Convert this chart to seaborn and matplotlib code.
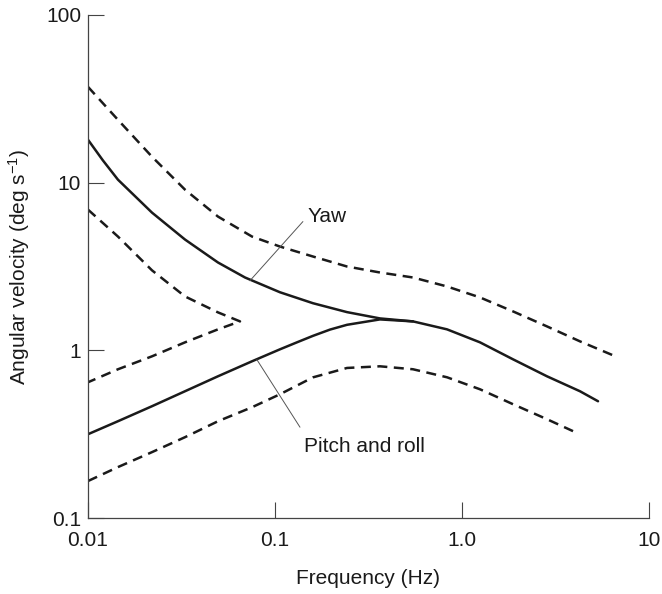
import matplotlib
matplotlib.use("Agg")
import matplotlib.pyplot as plt
import seaborn as sns
import pandas as pd

# Yaw, nominal (solid)
yaw_freq = [0.01, 0.012, 0.01446, 0.02199, 0.03302, 0.04956, 0.06913, 0.1063, 0.1596,
            0.2427, 0.3642, 0.547, 0.8315, 1.248, 1.874, 2.848, 4.276, 5.338]
yaw_vel = [18.03, 13.6, 10.42, 6.628, 4.579, 3.341, 2.719, 2.22, 1.91,
           1.69, 1.550, 1.488, 1.334, 1.116, 0.884, 0.700, 0.570, 0.497]

# Pitch and roll, nominal (solid), runs into the yaw curve near 0.4 Hz
pitch_freq = [0.01, 0.01446, 0.02199, 0.03302, 0.04956, 0.07534, 0.1063, 0.131,
              0.1596, 0.197, 0.2427, 0.3642, 0.547]
pitch_vel = [0.316, 0.3777, 0.4642, 0.5702, 0.7003, 0.8602, 1.014, 1.116,
             1.22, 1.33, 1.42, 1.529, 1.488]

# Upper bound (dashed)
upper_freq = [0.01, 0.01446, 0.02199, 0.03302, 0.04956, 0.07534, 0.1063, 0.1596,
              0.2427, 0.3642, 0.547, 0.8315, 1.248, 1.874, 2.848, 4.276, 6.421]
upper_vel = [37.28, 23.71, 14.28, 9.085, 6.277, 4.771, 4.159, 3.627,
             3.162, 2.912, 2.719, 2.404, 2.068, 1.707, 1.389, 1.131, 0.934]

# Inner bound between yaw and pitch/roll (dashed, closes in a point)
inner_freq = [0.01, 0.01446, 0.02199, 0.03302, 0.04956, 0.065,
              0.04956, 0.03302, 0.02199, 0.01446, 0.01]
inner_vel = [6.906, 4.771, 3.0, 2.096, 1.684, 1.488,
             1.334, 1.116, 0.921, 0.771, 0.645]

# Lower bound (dashed)
lower_freq = [0.01, 0.01446, 0.02199, 0.03302, 0.04956, 0.07534, 0.1063, 0.1596,
              0.2427, 0.3642, 0.547, 0.8315, 1.248, 1.874, 2.848, 3.924]
lower_vel = [0.1661, 0.2012, 0.2471, 0.3034, 0.3777, 0.4577, 0.547, 0.69,
             0.785, 0.8031, 0.7711, 0.6907, 0.5858, 0.4771, 0.3883, 0.3296]

x_ticks = [0.01, 0.1, 1.0, 10]
x_tick_labels = ["0.01", "0.1", "1.0", "10"]
y_ticks = [0.1, 1, 10, 100]
y_tick_labels = ["0.1", "1", "10", "100"]

sns.set_theme(style="ticks")
plt.rcParams["font.family"] = ["Liberation Sans", "DejaVu Sans"]
plt.rcParams["mathtext.fontset"] = "custom"
plt.rcParams["mathtext.rm"] = "Liberation Sans"
plt.rcParams["mathtext.it"] = "Liberation Sans:italic"

fig = plt.figure(figsize=(6.62, 5.94), dpi=100)
ax = fig.add_axes([88 / 662, 1 - 518 / 594, (649 - 88) / 662, (518 - 15) / 594])

ink = "#1a1a1a"
lw = 1.8
dash = (4, 2.6)  # in units of line width

def curve(freq, vel, dashed):
    df = pd.DataFrame({"freq": freq, "vel": vel})
    sns.lineplot(data=df, x="freq", y="vel", ax=ax, sort=False, estimator=None,
                 color=ink, linewidth=lw)
    line = ax.lines[-1]
    if dashed:
        line.set_dashes(dash)
    line.set_solid_joinstyle("round")
    line.set_dash_joinstyle("round")
    line.set_dash_capstyle("butt")

curve(upper_freq, upper_vel, True)
curve(inner_freq, inner_vel, True)
curve(lower_freq, lower_vel, True)
curve(yaw_freq, yaw_vel, False)
curve(pitch_freq, pitch_vel, False)

ax.set_xscale("log")
ax.set_yscale("log")
ax.set_xlim(0.01, 10)
ax.set_ylim(0.1, 100)
ax.set_xticks(x_ticks)
ax.set_xticklabels(x_tick_labels)
ax.set_yticks(y_ticks)
ax.set_yticklabels(y_tick_labels)
ax.minorticks_off()

spine_c = "#444444"
for side in ("top", "right"):
    ax.spines[side].set_visible(False)
for side in ("left", "bottom"):
    ax.spines[side].set_color(spine_c)
    ax.spines[side].set_linewidth(0.9)
ax.tick_params(axis="both", which="major", direction="in", length=11.5, width=0.8,
               color=spine_c, labelsize=15, labelcolor=ink)
ax.tick_params(axis="x", pad=9)
ax.tick_params(axis="y", pad=5)

ax.set_xlabel("Frequency (Hz)", fontsize=15, color=ink, labelpad=14)
ax.set_ylabel(r"Angular velocity (deg s$\mathregular{^{-1}}$)", fontsize=15, color=ink, labelpad=10)

# Leader lines and their labels
ax.plot([0.0734, 0.141], [2.6, 5.86], color="#555555", linewidth=0.7)
ax.text(0.150, 5.86, "Yaw", fontsize=15, color=ink, ha="left", va="baseline")
ax.plot([0.080, 0.136], [0.88, 0.348], color="#555555", linewidth=0.7)
ax.text(0.143, 0.247, "Pitch and roll", fontsize=15, color=ink, ha="left", va="baseline")

ax.set_facecolor("white")
fig.patch.set_facecolor("white")
fig.savefig("out.png", dpi=100)
